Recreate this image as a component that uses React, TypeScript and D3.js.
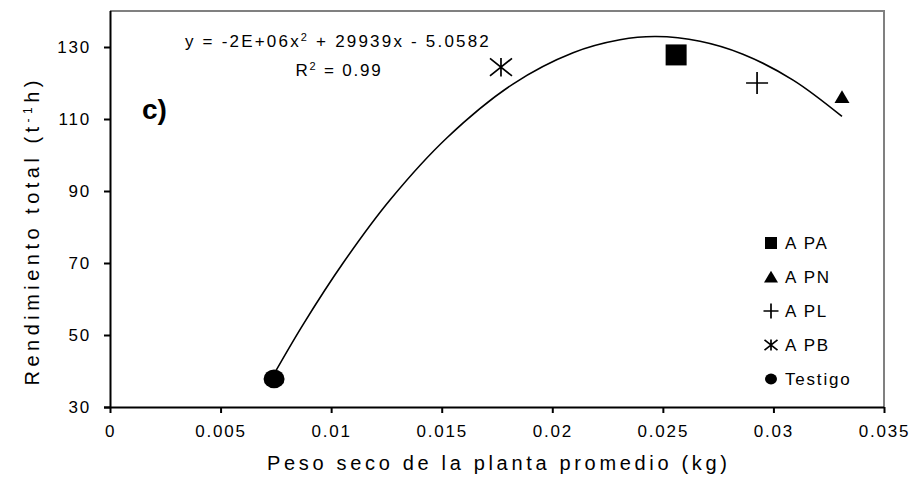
import React, { useEffect, useRef } from 'react'
import * as d3 from 'd3'

/* svg size and plot area */
const width = 915
const height = 482
const margin = { top: 11, right: 31, bottom: 75, left: 110 }
const font = '"Liberation Sans", Arial, sans-serif'

/* treatments */
const treatments = ['A PA', 'A PN', 'A PL', 'A PB', 'Testigo']
const markers = ['square', 'triangle', 'plus', 'asterisk', 'circle']
const pesoSeco = [0.0256, 0.0331, 0.02926, 0.01768, 0.00742]
const rendimiento = [127.8, 116.1, 120.0, 124.4, 37.8]

/* polynomial trend line */
const trendX = [
    0.00742, 0.00873, 0.01054, 0.01266, 0.01524, 0.01822, 0.02094, 0.02306,
    0.02469, 0.02668, 0.02862, 0.03089, 0.0331,
]
const trendY = [
    39.2, 52.9, 70.0, 87.5, 104.8, 119.7, 128.4, 132.0, 132.9, 131.6, 128.0,
    120.8, 110.7,
]

const xTicks = [0, 0.005, 0.01, 0.015, 0.02, 0.025, 0.03, 0.035]
const yTicks = [30, 50, 70, 90, 110, 130]

const x = d3
    .scaleLinear()
    .domain([0, 0.035])
    .range([margin.left, width - margin.right])
const y = d3
    .scaleLinear()
    .domain([30, 140])
    .range([height - margin.bottom, margin.top])

/* draw one marker centered on 0,0 */
const Marker = ({ type, s }: { type: string; s: number }) => {
    if (type === 'square')
        return <rect x={-s / 2} y={-s / 2} width={s} height={s} fill="#000" />
    if (type === 'triangle')
        return (
            <path
                d={`M0,${-s * 0.45}L${s * 0.5},${s * 0.4}L${-s * 0.5},${s * 0.4}Z`}
                fill="#000"
            />
        )
    if (type === 'plus')
        return (
            <path
                d={`M${-s / 2},0H${s / 2}M0,${-s / 2}V${s / 2}`}
                stroke="#000"
                strokeWidth={1.7}
            />
        )
    if (type === 'asterisk')
        return (
            <path
                d={`M${-s / 2},${-s * 0.4}L${s / 2},${s * 0.4}M${s / 2},${-s * 0.4}L${-s / 2},${s * 0.4}M0,${-s * 0.42}V${s * 0.42}`}
                stroke="#000"
                strokeWidth={1.7}
            />
        )
    return <ellipse rx={s / 2} ry={s * 0.45} fill="#000" />
}

const App = () => {
    const xAxis = useRef<SVGGElement>(null)
    const yAxis = useRef<SVGGElement>(null)

    useEffect(() => {
        const fmt = (d: any) => `${+d.toFixed(3)}`
        d3.select(xAxis.current!)
            .call(
                d3
                    .axisBottom(x)
                    .tickValues(xTicks)
                    .tickSize(6)
                    .tickPadding(12)
                    .tickFormat(fmt)
            )
        d3.select(yAxis.current!)
            .call(d3.axisLeft(y).tickValues(yTicks).tickSize(6).tickPadding(13))
        ;[xAxis.current, yAxis.current].forEach((g) => {
            const sel = d3.select(g!)
            sel.selectAll('.domain')
                .attr('stroke', '#000')
                .attr('stroke-width', 2)
            sel.selectAll('.tick line')
                .attr('stroke', '#000')
                .attr('stroke-width', 2)
            sel.selectAll('.tick text')
                .attr('font-family', font)
                .attr('font-size', 17)
                .attr('letter-spacing', 1.8)
                .attr('fill', '#000')
        })
        d3.select(xAxis.current!).select('.domain').attr('d', `M${margin.left - 6},0.5H${width - margin.right}`)
        d3.select(yAxis.current!).select('.domain').attr('d', `M0.5,${margin.top}V${height - margin.bottom}`)
    }, [])

    const line = d3
        .line<number>()
        .x((d, i) => x(trendX[i]))
        .y((d) => y(d))
        .curve(d3.curveCatmullRom.alpha(0.5))(trendY)

    const legendY = (i: number) => 243 + i * 34

    return (
        <svg
            width={width}
            height={height}
            style={{ position: 'absolute', left: 0, top: 0, background: '#fff' }}
            fontFamily={font}
        >
            {/* gray frame top and right */}
            <path
                d={`M${margin.left},${margin.top}H${width - margin.right}V${height - margin.bottom}`}
                fill="none"
                stroke="#808080"
                strokeWidth={2}
            />
            {/* trend line */}
            <path d={line || ''} fill="none" stroke="#000" strokeWidth={1.6} />
            {/* points */}
            {treatments.map((t, i) => (
                <g key={t} transform={`translate(${x(pesoSeco[i])},${y(rendimiento[i])})`}>
                    <Marker type={markers[i]} s={[21, 15, 22, 22, 21][i]} />
                </g>
            ))}
            {/* legend */}
            {treatments.map((t, i) => (
                <g key={t} transform={`translate(771,${legendY(i)})`}>
                    <Marker type={markers[i]} s={[12, 14, 15, 13, 12][i]} />
                    <text x={14} y={6} fontSize={17} letterSpacing={1.8}>
                        {t}
                    </text>
                </g>
            ))}
            {/* equation */}
            <text x={338} y={47} fontSize={17} letterSpacing={2.2} textAnchor="middle">
                y = -2E+06x
                <tspan dy={-6} fontSize={11}>2</tspan>
                <tspan dy={6}> + 29939x - 5.0582</tspan>
            </text>
            <text x={339} y={76} fontSize={17} letterSpacing={1.8} textAnchor="middle">
                R<tspan dy={-6} fontSize={11}>2</tspan>
                <tspan dy={6}> = 0.99</tspan>
            </text>
            <text x={142} y={119} fontSize={28} fontWeight="bold">
                c)
            </text>
            {/* axes */}
            <g ref={xAxis} transform={`translate(0,${height - margin.bottom})`} />
            <g ref={yAxis} transform={`translate(${margin.left},0)`} />
            {/* axis titles */}
            <text
                x={497}
                y={470}
                fontSize={20}
                textAnchor="middle"
                textLength={460}
                lengthAdjust="spacing"
            >
                Peso seco de la planta promedio (kg)
            </text>
            <text
                transform="translate(39,233) rotate(-90)"
                fontSize={20}
                textAnchor="middle"
                textLength={305}
                lengthAdjust="spacing"
            >
                Rendimiento total (t<tspan dy={-7} fontSize={12}>-1</tspan>
                <tspan dy={7}>h)</tspan>
            </text>
        </svg>
    )
}

export default App
